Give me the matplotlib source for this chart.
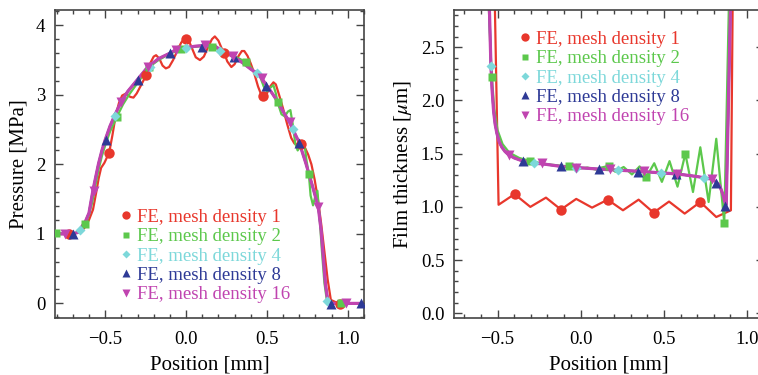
import matplotlib
matplotlib.use("Agg")
import matplotlib.pyplot as plt
from matplotlib.ticker import MultipleLocator

plt.rcParams["font.family"] = ["Liberation Serif", "DejaVu Serif"]
plt.rcParams["mathtext.fontset"] = "stix"
plt.rcParams["axes.unicode_minus"] = True

# ---------------- series styling ----------------
labels = ["FE, mesh density 1", "FE, mesh density 2", "FE, mesh density 4",
          "FE, mesh density 8", "FE, mesh density 16"]
colors = ["#E8372C", "#5CC84C", "#7DD8DA", "#2E3A96", "#C044B0"]
markers = ["o", "s", "D", "^", "v"]
msizes = [7.5, 5.8, 5.6, 7.0, 7.0]

# ---------------- pressure [MPa] vs position [mm] ----------------
p1_x = [-0.81, -0.72, -0.66, -0.63, -0.60, -0.575, -0.555, -0.54, -0.525, -0.505,
        -0.475, -0.455, -0.435, -0.415, -0.395, -0.37, -0.345, -0.325, -0.305, -0.28,
        -0.247, -0.22, -0.20, -0.185, -0.165, -0.145, -0.125, -0.105, -0.08, -0.055,
        -0.03, -0.01, 0.0, 0.015, 0.035, 0.06, 0.086, 0.11, 0.135, 0.16,
        0.178, 0.20, 0.22, 0.236, 0.255, 0.28, 0.30, 0.325, 0.345, 0.36,
        0.38, 0.40, 0.42, 0.445, 0.465, 0.478, 0.50, 0.52, 0.54, 0.555,
        0.575, 0.60, 0.625, 0.65, 0.67, 0.69, 0.713, 0.735, 0.755, 0.775,
        0.795, 0.815, 0.835, 0.855, 0.875, 0.895, 0.951, 1.10]
p1_y = [1.00, 1.00, 1.02, 1.08, 1.20, 1.35, 1.60, 1.80, 1.95, 2.02,
        2.17, 2.42, 2.70, 2.88, 2.99, 3.02, 2.97, 2.96, 3.02, 3.13,
        3.28, 3.46, 3.55, 3.57, 3.52, 3.42, 3.38, 3.40, 3.50, 3.63,
        3.75, 3.81, 3.82, 3.79, 3.68, 3.54, 3.50, 3.55, 3.68, 3.80,
        3.84, 3.78, 3.67, 3.60, 3.48, 3.40, 3.44, 3.56, 3.63, 3.63,
        3.56, 3.45, 3.32, 3.12, 3.00, 2.98, 3.02, 3.12, 3.18, 3.15,
        3.00, 2.80, 2.58, 2.38, 2.30, 2.28, 2.29, 2.24, 2.14, 2.00,
        1.78, 1.50, 1.15, 0.75, 0.35, 0.05, -0.01, 0.00]

p2_x = [-0.81, -0.70, -0.66, -0.623, -0.60, -0.58, -0.56, -0.54, -0.52, -0.50,
        -0.47, -0.428, -0.39, -0.35, -0.30, -0.228, -0.17, -0.10, -0.031, 0.05,
        0.10, 0.162, 0.22, 0.28, 0.33, 0.37, 0.40, 0.42, 0.44, 0.455,
        0.48, 0.50, 0.52, 0.54, 0.555, 0.566, 0.59, 0.61, 0.63, 0.645,
        0.66, 0.675, 0.69, 0.71, 0.73, 0.745, 0.759, 0.77, 0.785, 0.80,
        0.812, 0.825, 0.84, 0.855, 0.87, 0.89, 1.10]
p2_y = [1.01, 1.00, 1.03, 1.14, 1.27, 1.45, 1.70, 1.93, 2.12, 2.27,
        2.47, 2.68, 2.86, 3.01, 3.17, 3.40, 3.50, 3.59, 3.66, 3.69,
        3.70, 3.69, 3.64, 3.57, 3.52, 3.47, 3.40, 3.33, 3.34, 3.28,
        3.12, 3.05, 3.10, 3.14, 3.02, 2.89, 2.72, 2.69, 2.76, 2.78,
        2.57, 2.30, 2.20, 2.28, 2.33, 2.05, 1.86, 1.55, 1.41, 1.55,
        1.62, 1.25, 0.75, 0.30, 0.05, 0.00, 0.00]

# converged solution shared by the finer meshes (4, 8, 16)
pf_x = [-0.81, -0.70, -0.67, -0.645, -0.62, -0.60, -0.576, -0.56, -0.541, -0.52,
        -0.50, -0.47, -0.438, -0.403, -0.36, -0.30, -0.237, -0.17, -0.099, -0.062,
        0.0, 0.06, 0.12, 0.18, 0.216, 0.26, 0.296, 0.35, 0.40, 0.438,
        0.467, 0.494, 0.53, 0.57, 0.61, 0.642, 0.659, 0.70, 0.74, 0.78,
        0.817, 0.835, 0.85, 0.862, 0.875, 0.893, 1.10]
pf_y = [1.00, 1.00, 1.02, 1.10, 1.19, 1.30, 1.62, 1.80, 2.01, 2.20,
        2.35, 2.55, 2.72, 2.89, 3.05, 3.22, 3.40, 3.52, 3.60, 3.65,
        3.68, 3.70, 3.71, 3.70, 3.64, 3.59, 3.54, 3.46, 3.37, 3.31,
        3.24, 3.15, 3.03, 2.89, 2.72, 2.60, 2.51, 2.31, 2.02, 1.70,
        1.39, 1.05, 0.62, 0.27, 0.06, 0.00, 0.00]

# nodal values shown with markers
p1_mx = [-0.721, -0.475, -0.247, 0.0, 0.236, 0.477, 0.713, 0.951]
p1_my = [1.00, 2.17, 3.28, 3.81, 3.60, 2.98, 2.29, -0.01]
p2_mx = [-0.805, -0.623, -0.428, -0.228, -0.031, 0.162, 0.370, 0.566, 0.759, 0.955]
p2_my = [1.01, 1.14, 2.68, 3.40, 3.66, 3.69, 3.47, 2.89, 1.86, 0.00]
p4_mx = [-0.654, -0.438, -0.222, 0.0, 0.212, 0.436, 0.659, 0.870]
p4_my = [1.06, 2.70, 3.40, 3.67, 3.63, 3.31, 2.51, 0.04]
p8_mx = [-0.696, -0.496, -0.298, -0.099, 0.097, 0.296, 0.494, 0.700, 0.893, 1.084]
p8_my = [1.00, 2.35, 3.22, 3.60, 3.69, 3.54, 3.13, 2.31, -0.01, 0.00]
p16_mx = [-0.747, -0.572, -0.403, -0.237, -0.062, 0.117, 0.292, 0.467, 0.642, 0.817, 0.99]
p16_my = [1.00, 1.62, 2.89, 3.40, 3.65, 3.71, 3.56, 3.24, 2.61, 1.39, 0.00]

# ---------------- film thickness [um] vs position [mm] ----------------
h1_x = [-0.52, -0.494, -0.398, -0.303, -0.209, -0.119, -0.027, 0.068, 0.162, 0.254,
        0.348, 0.438, 0.531, 0.625, 0.719, 0.815, 0.903, 0.915]
h1_y = [3.20, 1.02, 1.12, 1.00, 1.087, 0.975, 1.075, 0.993, 1.068, 0.968,
        1.068, 0.946, 1.05, 0.937, 1.046, 0.905, 0.968, 3.20]

h2_x = [-0.56, -0.545, -0.534, -0.52, -0.50, -0.47, -0.43, -0.37, -0.303, -0.20,
        -0.069, -0.01, 0.04, 0.09, 0.125, 0.167, 0.208, 0.258, 0.308, 0.354,
        0.394, 0.442, 0.488, 0.534, 0.582, 0.629, 0.675, 0.719, 0.769, 0.815,
        0.863, 0.895]
h2_y = [3.20, 2.55, 2.22, 1.92, 1.72, 1.59, 1.51, 1.46, 1.43, 1.40,
        1.38, 1.36, 1.37, 1.35, 1.37, 1.385, 1.33, 1.375, 1.305, 1.38,
        1.28, 1.41, 1.235, 1.43, 1.19, 1.50, 1.14, 1.56, 1.046, 1.64,
        0.85, 3.20]

hf_x = [-0.557, -0.548, -0.54, -0.533, -0.524, -0.515, -0.504, -0.49, -0.474, -0.455,
        -0.434, -0.40, -0.347, -0.283, -0.233, -0.117, -0.027, 0.112, 0.224, 0.344,
        0.478, 0.579, 0.70, 0.789, 0.815, 0.835, 0.852, 0.866, 0.875, 0.905]
hf_y = [3.20, 2.80, 2.32, 2.10, 1.90, 1.78, 1.69, 1.61, 1.56, 1.52,
        1.49, 1.46, 1.43, 1.41, 1.405, 1.38, 1.37, 1.355, 1.345, 1.335,
        1.32, 1.31, 1.285, 1.26, 1.235, 1.20, 1.13, 1.05, 1.02, 3.20]

h1_mx = [-0.398, -0.119, 0.162, 0.438, 0.719]
h1_my = [1.12, 0.975, 1.068, 0.946, 1.046]
h2_mx = [-0.534, -0.303, -0.069, 0.167, 0.394, 0.629, 0.863]
h2_my = [2.22, 1.43, 1.38, 1.385, 1.28, 1.50, 0.85]
h4_mx = [-0.540, -0.283, -0.027, 0.224, 0.483, 0.739]
h4_my = [2.32, 1.41, 1.37, 1.345, 1.32, 1.27]
h8_mx = [-0.347, -0.117, 0.112, 0.344, 0.574, 0.815, 0.869]
h8_my = [1.43, 1.38, 1.355, 1.33, 1.305, 1.22, 1.01]
h16_mx = [-0.434, -0.233, -0.027, 0.178, 0.378, 0.579, 0.789]
h16_my = [1.49, 1.41, 1.37, 1.36, 1.34, 1.31, 1.26]

W, H = 758, 375
fig = plt.figure(figsize=(W / 100, H / 100), dpi=100)
ax1 = fig.add_axes([55 / W, 1 - 318 / H, 309 / W, 308 / H])
ax2 = fig.add_axes([454 / W, 1 - 318 / H, 310 / W, 308 / H])

spine_col = "#444444"


def style_axes(ax):
    for s in ax.spines.values():
        s.set_color(spine_col)
        s.set_linewidth(1.2)
    ax.tick_params(which="both", direction="in", top=True, right=True,
                   color=spine_col, labelsize=13.5, width=1.0)
    ax.tick_params(which="major", length=6)
    ax.tick_params(which="minor", length=3)
    ax.tick_params(axis="x", which="major", pad=9)
    ax.tick_params(axis="y", which="major", pad=7)


def draw(ax, lines, nodes):
    widths = [1.6, 1.6, 1.6, 1.6, 2.3]
    for (x, y), c, lw in zip(lines, colors, widths):
        ax.plot(x, y, color=c, lw=lw, solid_joinstyle="round", zorder=2)
    handles = []
    for (x, y), c, m, ms, lab in zip(nodes, colors, markers, msizes, labels):
        h, = ax.plot(x, y, ls="none", marker=m, ms=ms, color=c,
                     mec="none", label=lab, zorder=3)
        handles.append(h)
    return handles


hd1 = draw(ax1,
           [(p1_x, p1_y), (p2_x, p2_y), (pf_x, pf_y), (pf_x, pf_y), (pf_x, pf_y)],
           [(p1_mx, p1_my), (p2_mx, p2_my), (p4_mx, p4_my), (p8_mx, p8_my),
            (p16_mx, p16_my)])
hd2 = draw(ax2,
           [(h1_x, h1_y), (h2_x, h2_y), (hf_x, hf_y), (hf_x, hf_y), (hf_x, hf_y)],
           [(h1_mx, h1_my), (h2_mx, h2_my), (h4_mx, h4_my), (h8_mx, h8_my),
            (h16_mx, h16_my)])

ax1.set_xlim(-0.81, 1.10)
ax1.set_ylim(-0.21, 4.22)
ax1.xaxis.set_major_locator(MultipleLocator(0.5))
ax1.xaxis.set_minor_locator(MultipleLocator(0.1))
ax1.yaxis.set_major_locator(MultipleLocator(1))
ax1.yaxis.set_minor_locator(MultipleLocator(0.2))
ax1.set_xlabel("Position [mm]", fontsize=15, labelpad=6)
ax1.set_ylabel("Pressure [MPa]", fontsize=15, labelpad=5)
style_axes(ax1)

ax2.set_xlim(-0.762, 1.102)
ax2.set_ylim(-0.044, 2.85)
ax2.xaxis.set_major_locator(MultipleLocator(0.5))
ax2.xaxis.set_minor_locator(MultipleLocator(0.1))
ax2.yaxis.set_major_locator(MultipleLocator(0.5))
ax2.yaxis.set_minor_locator(MultipleLocator(0.1))
ax2.set_xlabel("Position [mm]", fontsize=15, labelpad=6)
ax2.set_ylabel(r"Film thickness [$\mu$m]", fontsize=15, labelpad=5)
style_axes(ax2)


def add_legend(ax, handles, anchor):
    leg = ax.legend(handles=handles, loc="upper left", bbox_to_anchor=anchor,
                    frameon=False, fontsize=13.5, handlelength=0.6,
                    handletextpad=0.3, labelspacing=0.12, borderpad=0,
                    borderaxespad=0, markerscale=0.8)
    for t, c in zip(leg.get_texts(), colors):
        t.set_color(c)
    return leg


add_legend(ax1, hd1, (0.21, 0.355))
add_legend(ax2, hd2, (0.21, 0.933))

fig.savefig("out.png", dpi=100)
